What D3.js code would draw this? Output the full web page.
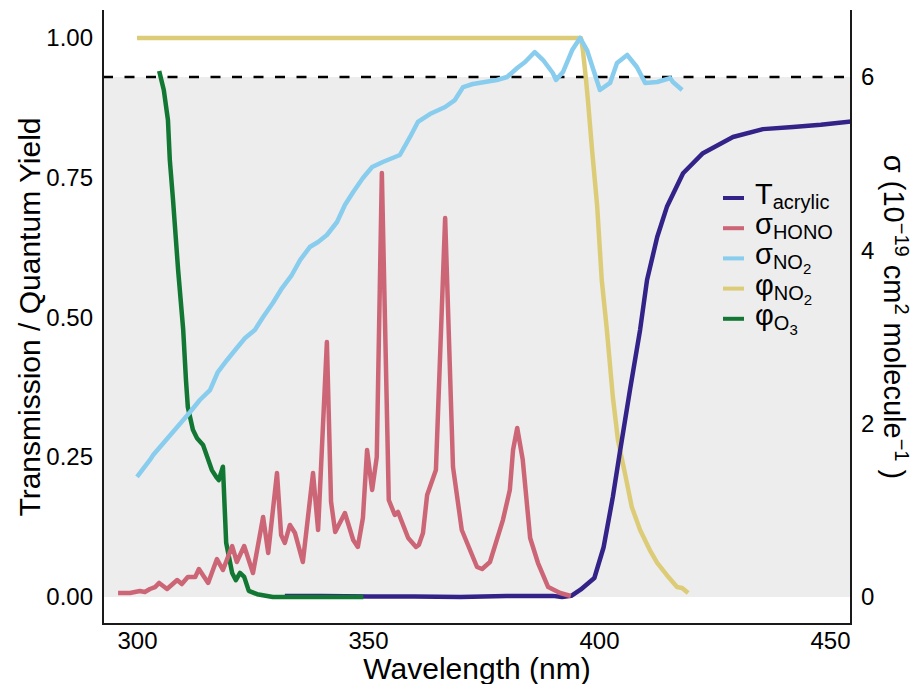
<!DOCTYPE html>
<html>
<head>
<meta charset="utf-8">
<script src="https://cdn.jsdelivr.net/npm/d3@7"></script>
<style>
  body { margin: 0; background: #fff; }
  text { font-family: "Liberation Sans", Arial, sans-serif; fill: #000; }
</style>
</head>
<body>
<div id="my_dataviz"></div>
<script>
// ---- data ----
var tWl = [332, 340, 350, 360, 370, 380, 390, 392, 394, 396, 399, 401, 403, 404.5, 406.7, 408.9, 410.4, 412.6, 414.7, 418.2, 422.5, 429, 435.5, 442, 448, 455]
var tVal = [0.002, 0.002, 0.001, 0.001, 0.0, 0.002, 0.002, 0.0, 0.002, 0.013, 0.034, 0.089, 0.179, 0.258, 0.370, 0.478, 0.567, 0.644, 0.698, 0.758, 0.794, 0.823, 0.837, 0.841, 0.845, 0.851]

var honoWl = [295.9, 298.5, 300.6, 301.7, 302.8, 303.9, 304.8, 306.5, 308.7, 309.7, 311.0, 312.6, 313.4, 315.4, 317.3, 318.6, 320.6, 321.6, 323.2, 325.1, 327.3, 328.4, 330.3, 331.2, 332.0, 333.1, 334.2, 335.9, 338.1, 339.2, 341.1, 342.0, 342.9, 345.0, 346.8, 347.8, 348.9, 349.8, 350.9, 351.9, 353.0, 354.5, 355.8, 356.5, 358.7, 360.4, 361.0, 361.9, 362.8, 364.7, 366.7, 368.4, 370.3, 373.6, 374.7, 376.4, 379.2, 380.7, 381.4, 382.3, 383.5, 385.1, 386.8, 389.0, 391.6, 393.9]
var honoSig = [0.046, 0.046, 0.069, 0.058, 0.092, 0.115, 0.162, 0.092, 0.196, 0.150, 0.231, 0.231, 0.323, 0.162, 0.438, 0.312, 0.588, 0.404, 0.588, 0.277, 0.923, 0.508, 1.431, 0.715, 0.623, 0.831, 0.738, 0.404, 1.431, 0.773, 2.942, 1.100, 0.750, 0.969, 0.658, 0.577, 0.912, 1.696, 1.235, 1.615, 4.892, 1.119, 0.946, 0.981, 0.681, 0.577, 0.600, 0.738, 1.177, 1.465, 4.373, 1.500, 0.773, 0.346, 0.323, 0.404, 0.888, 1.235, 1.696, 1.950, 1.581, 0.681, 0.392, 0.115, 0.046, 0.012]

var no2Wl = [300.0, 302.8, 303.5, 311.5, 313.6, 315.8, 317.5, 319.5, 321.6, 323.4, 325.5, 327.3, 329.4, 331.4, 333.5, 335.3, 337.4, 339.2, 341.1, 343.3, 345.0, 346.8, 348.9, 350.9, 353.2, 356.9, 359.1, 360.8, 363.4, 366.7, 368.8, 370.6, 372.7, 377.9, 380.1, 382.3, 384.0, 386.1, 387.9, 390.0, 390.7, 392.2, 394.2, 395.9, 397.4, 398.1, 400.2, 402.4, 403.9, 406.1, 408.2, 410.0, 412.6, 415.4, 416.0, 418.0]
var no2Sig = [1.385, 1.581, 1.638, 2.135, 2.273, 2.388, 2.596, 2.735, 2.873, 2.988, 3.081, 3.231, 3.392, 3.565, 3.715, 3.888, 4.038, 4.096, 4.177, 4.327, 4.523, 4.673, 4.834, 4.961, 5.019, 5.100, 5.308, 5.481, 5.573, 5.654, 5.734, 5.884, 5.919, 5.965, 6.000, 6.104, 6.173, 6.288, 6.196, 6.046, 5.965, 6.057, 6.311, 6.450, 6.311, 6.196, 5.850, 5.931, 6.161, 6.254, 6.115, 5.931, 5.942, 5.988, 5.942, 5.850]

var phiNo2Wl = [300, 396.1, 396.5, 397.2, 397.6, 398.5, 399.6, 400.6, 401.7, 403.0, 404.1, 405.6, 407.1, 408.9, 411.0, 412.6, 414.7, 416.9, 418.0, 419.3]
var phiNo2Val = [1.0, 1.0, 0.979, 0.925, 0.889, 0.800, 0.700, 0.567, 0.478, 0.358, 0.281, 0.222, 0.161, 0.120, 0.084, 0.061, 0.039, 0.018, 0.016, 0.007]

var phiO3Wl = [304.8, 305.8, 306.7, 307.1, 307.8, 308.9, 310.0, 310.6, 311.0, 312.1, 313.0, 314.3, 316.2, 317.3, 317.7, 318.6, 319.3, 320.6, 321.4, 322.3, 323.2, 324.2, 326.0, 329.4, 349.0]
var phiO3Val = [0.941, 0.907, 0.853, 0.782, 0.710, 0.585, 0.478, 0.388, 0.340, 0.299, 0.284, 0.272, 0.227, 0.213, 0.209, 0.233, 0.097, 0.043, 0.030, 0.043, 0.036, 0.011, 0.005, 0.0, 0.0]

var xTicks = [300, 350, 400, 450]
var yTicks = [0, 0.25, 0.5, 0.75, 1]
var y2Ticks = [0, 2, 4, 6]
var sigmaLimit = 6   // dashed line / top of grey band (right axis units)

// ---- layout ----
var width = 917, height = 684
var plotL = 103, plotR = 851, plotT = 10, plotB = 624

var svg = d3.select("#my_dataviz")
  .append("svg")
  .attr("width", width)
  .attr("height", height)

var x = d3.scaleLinear().domain([292.64, 454.55]).range([plotL, plotR])
var y = d3.scaleLinear().domain([-0.0483, 1.0501]).range([plotB, plotT])
var y2 = d3.scaleLinear().domain([-0.3115, 6.773]).range([plotB, plotT])

svg.append("clipPath").attr("id", "clip")
  .append("rect")
  .attr("x", plotL).attr("y", plotT)
  .attr("width", plotR - plotL).attr("height", plotB - plotT)

// grey band from 0 up to the 6e-19 line
svg.append("rect")
  .attr("x", plotL)
  .attr("y", y2(sigmaLimit))
  .attr("width", plotR - plotL)
  .attr("height", y(0) - y2(sigmaLimit))
  .attr("fill", "#ededed")

svg.append("line")
  .attr("x1", plotL).attr("x2", plotR)
  .attr("y1", y2(sigmaLimit)).attr("y2", y2(sigmaLimit))
  .attr("stroke", "black")
  .attr("stroke-width", 2.5)
  .attr("stroke-dasharray", "10,11.5")

// series, in drawing order
var series = [
  { key: "phiNO2", wl: phiNo2Wl, v: phiNo2Val, axis: y, color: "#ddcc77" },
  { key: "T", wl: tWl, v: tVal, axis: y, color: "#332288" },
  { key: "phiO3", wl: phiO3Wl, v: phiO3Val, axis: y, color: "#117733" },
  { key: "HONO", wl: honoWl, v: honoSig, axis: y2, color: "#cc6677" },
  { key: "NO2", wl: no2Wl, v: no2Sig, axis: y2, color: "#88ccee" }
]

var lines = svg.append("g").attr("clip-path", "url(#clip)")
series.forEach(function (s) {
  var pts = s.wl.map(function (w, i) { return [w, s.v[i]] })
  var line = d3.line()
    .x(function (d) { return x(d[0]) })
    .y(function (d) { return s.axis(d[1]) })
  lines.append("path")
    .datum(pts)
    .attr("d", line)
    .attr("fill", "none")
    .attr("stroke", s.color)
    .attr("stroke-width", 4.5)
    .attr("stroke-linejoin", "round")
})

// ---- axes ----
svg.append("path")
  .attr("d", "M" + plotL + "," + plotT + "V" + plotB + "H" + plotR + "V" + plotT)
  .attr("fill", "none")
  .attr("stroke", "#1a1a1a")
  .attr("stroke-width", 2)

var xAxis = svg.append("g")
  .attr("transform", "translate(0," + plotB + ")")
  .call(d3.axisBottom(x).tickValues(xTicks).tickSize(0).tickPadding(8))
var yAxis = svg.append("g")
  .attr("transform", "translate(" + plotL + ",0)")
  .call(d3.axisLeft(y).tickValues(yTicks).tickSize(0).tickPadding(10).tickFormat(d3.format(".2f")))
var y2Axis = svg.append("g")
  .attr("transform", "translate(" + plotR + ",0)")
  .call(d3.axisRight(y2).tickValues(y2Ticks).tickSize(0).tickPadding(10))

;[xAxis, yAxis, y2Axis].forEach(function (a) {
  a.select(".domain").remove()
  a.selectAll("text")
    .style("font-size", "24px")
    .style("font-family", "'Liberation Sans', Arial, sans-serif")
    .attr("fill", "#000")
})

// axis titles
svg.append("text")
  .attr("x", (plotL + plotR) / 2)
  .attr("y", 679)
  .attr("text-anchor", "middle")
  .style("font-size", "30px")
  .text("Wavelength (nm)")

svg.append("text")
  .attr("transform", "translate(40," + (plotT + plotB) / 2 + ") rotate(-90)")
  .attr("text-anchor", "middle")
  .style("font-size", "30px")
  .text("Transmission / Quantum Yield")

// helper: pieces are [text, dy, size]
function richText(t, pieces) {
  pieces.forEach(function (p) {
    t.append("tspan").attr("dy", p[1]).style("font-size", p[2] + "px").text(p[0])
  })
}

var rTitle = svg.append("text")
  .attr("transform", "translate(884," + (plotT + plotB) / 2 + ") rotate(90)")
  .attr("text-anchor", "middle")
  .style("font-size", "29px")
richText(rTitle, [
  ["σ (10", 0, 29], ["−19", -11, 20], [" cm", 11, 29], ["2", -11, 20],
  [" molecule", 11, 29], ["−1", -11, 20], [" )", 11, 29]
])

// ---- legend ----
var legendItems = [
  { color: "#332288", parts: [["T", 0, 29], ["acrylic", 5, 20]] },
  { color: "#cc6677", parts: [["σ", 0, 29], ["HONO", 5, 20]] },
  { color: "#88ccee", parts: [["σ", 0, 29], ["NO", 5, 20], ["2", 5, 15]] },
  { color: "#ddcc77", parts: [["φ", 0, 29], ["NO", 5, 20], ["2", 5, 15]] },
  { color: "#117733", parts: [["φ", 0, 29], ["O", 5, 20], ["3", 5, 15]] }
]

var legend = svg.append("g").attr("transform", "translate(723,198)")
legendItems.forEach(function (d, i) {
  var g = legend.append("g").attr("transform", "translate(0," + i * 30.2 + ")")
  g.append("line")
    .attr("x1", 0).attr("x2", 21)
    .attr("stroke", d.color)
    .attr("stroke-width", 4)
  var t = g.append("text").attr("x", 32).attr("y", 6)
  richText(t, d.parts)
})
</script>
</body>
</html>
